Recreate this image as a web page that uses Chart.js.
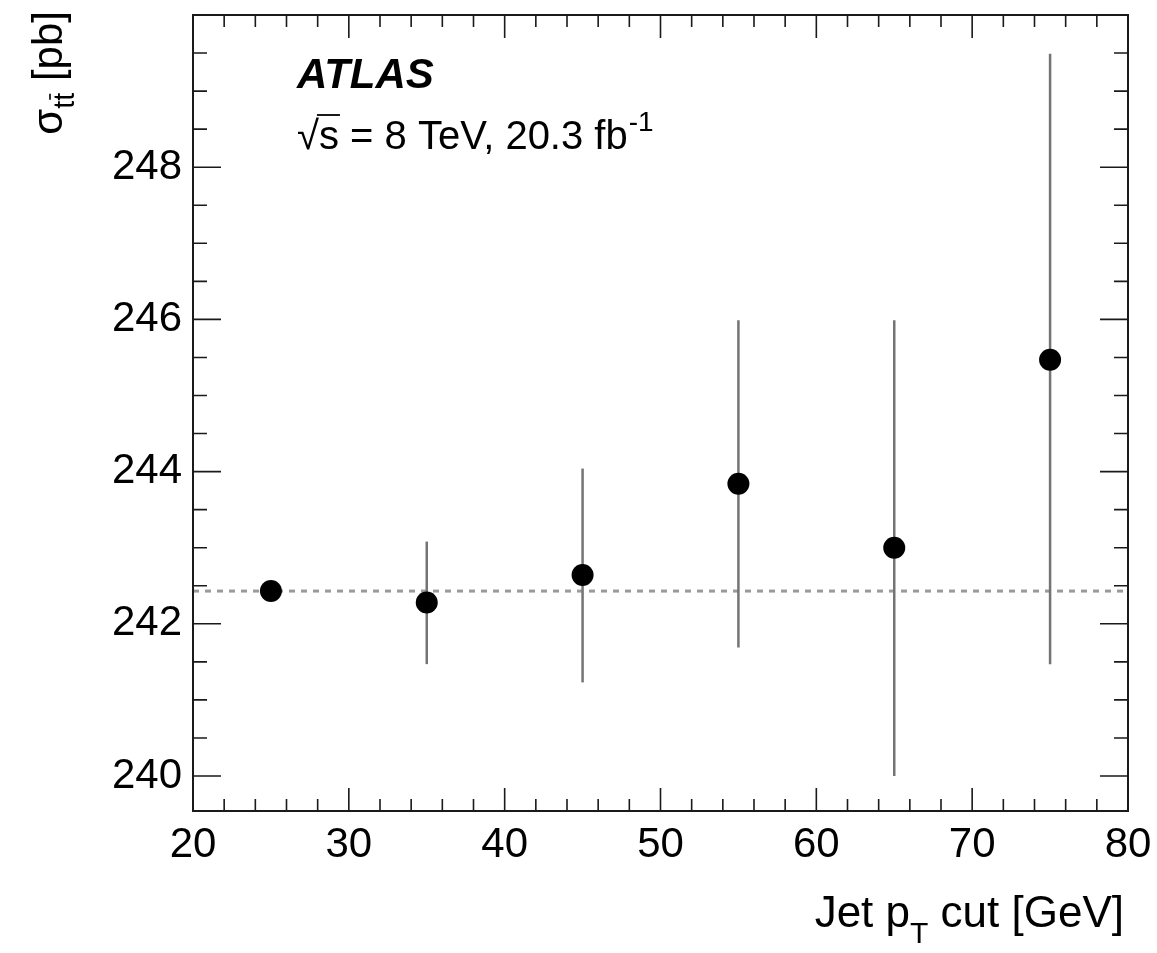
<!DOCTYPE html>
<html><head><meta charset="utf-8">
<script src="https://cdn.jsdelivr.net/npm/chart.js@4/dist/chart.umd.min.js"></script>
<style>html,body{margin:0;padding:0;background:#fff}#wrap{width:1157px;height:953px}</style>
</head><body><div id="wrap"><canvas id="c" width="1157" height="953"></canvas></div>
<script>
const jetPtCut = [25, 35, 45, 55, 65, 75];
const sigma    = [242.43, 242.28, 242.64, 243.84, 243.00, 245.47];
const errLow   = [242.43, 241.47, 241.23, 241.69, 240.00, 241.47];
const errHigh  = [242.43, 243.08, 244.04, 245.99, 245.99, 249.49];
const referenceSigma = 242.43;
const xTicks = [20, 30, 40, 50, 60, 70, 80];
const yTicks = [240, 242, 244, 246, 248];
const xRange = [20, 80];
const yRange = [239.54, 250];

const FONT = "'Liberation Sans', Arial, Helvetica, sans-serif";

const atlasPlugin = {
  id: 'atlas',
  beforeDatasetsDraw(chart) {
    const ctx = chart.ctx, x = chart.scales.x, y = chart.scales.y, a = chart.chartArea;
    ctx.save();
    ctx.strokeStyle = '#9a9a9a';
    ctx.lineWidth = 3;
    ctx.setLineDash([6, 6]);
    const yr = y.getPixelForValue(referenceSigma);
    ctx.beginPath(); ctx.moveTo(a.left, yr); ctx.lineTo(a.right, yr); ctx.stroke();
    ctx.setLineDash([]);
    ctx.strokeStyle = '#747474';
    ctx.lineWidth = 2.5;
    for (let i = 0; i < jetPtCut.length; i++) {
      const px = x.getPixelForValue(jetPtCut[i]);
      ctx.beginPath();
      ctx.moveTo(px, y.getPixelForValue(errLow[i]));
      ctx.lineTo(px, y.getPixelForValue(errHigh[i]));
      ctx.stroke();
    }
    ctx.restore();
  },
  afterDraw(chart) {
    const ctx = chart.ctx, x = chart.scales.x, y = chart.scales.y, a = chart.chartArea;
    ctx.save();
    ctx.strokeStyle = '#1a1a1a';
    ctx.lineWidth = 2;
    ctx.strokeRect(a.left, a.top, a.right - a.left, a.bottom - a.top);
    ctx.lineWidth = 1.6;
    ctx.beginPath();
    for (let v = xRange[0]; v <= xRange[1] + 1e-9; v += 2) {
      const px = x.getPixelForValue(v);
      const major = Math.abs(v % 10) < 1e-9;
      const len = major ? 23 : 12;
      ctx.moveTo(px, a.bottom); ctx.lineTo(px, a.bottom - len);
      ctx.moveTo(px, a.top); ctx.lineTo(px, a.top + len);
    }
    for (let v = 240; v <= yRange[1] + 1e-9; v += 0.5) {
      if (v < yRange[0]) continue;
      const py = y.getPixelForValue(v);
      const major = Math.abs(v % 2) < 1e-9;
      const len = major ? 28 : 14;
      ctx.moveTo(a.left, py); ctx.lineTo(a.left + len, py);
      ctx.moveTo(a.right, py); ctx.lineTo(a.right - len, py);
    }
    ctx.stroke();

    ctx.fillStyle = '#000';
    ctx.textBaseline = 'alphabetic';
    ctx.font = `italic bold 42px ${FONT}`;
    ctx.textAlign = 'left';
    ctx.fillText('ATLAS', 297, 88);
    ctx.font = `40px ${FONT}`;
    let tx = 297, ty = 149;
    ctx.fillText('√', tx, ty);
    tx += ctx.measureText('√').width;
    const sW = ctx.measureText('s').width;
    ctx.fillText('s', tx, ty);
    ctx.lineWidth = 2;
    ctx.beginPath(); ctx.moveTo(tx - 2, ty - 34); ctx.lineTo(tx + sW + 1, ty - 34); ctx.stroke();
    tx += sW;
    const rest = ' = 8 TeV, 20.3 fb';
    ctx.fillText(rest, tx, ty);
    tx += ctx.measureText(rest).width;
    ctx.font = `28px ${FONT}`;
    ctx.fillText('-1', tx + 1, ty - 18);

    const big = `44px ${FONT}`, small = `30px ${FONT}`;
    ctx.font = big; const w1 = ctx.measureText('Jet p').width; const w3 = ctx.measureText(' cut [GeV]').width;
    ctx.font = small; const w2 = ctx.measureText('T').width;
    let xx = a.right - 4 - (w1 + w2 + w3), xb = 927;
    ctx.font = big; ctx.fillText('Jet p', xx, xb); xx += w1;
    ctx.font = small; ctx.fillText('T', xx, xb + 16); xx += w2;
    ctx.font = big; ctx.fillText(' cut [GeV]', xx, xb);

    const ybig = `42px ${FONT}`, ysmall = `29px ${FONT}`;
    ctx.save();
    ctx.translate(62, 11);
    ctx.rotate(-Math.PI / 2);
    ctx.font = ybig; const s1 = ctx.measureText('σ').width; const s3 = ctx.measureText(' [pb]').width;
    ctx.font = ysmall; const tW = ctx.measureText('t').width; const s2 = 2 * tW;
    let yy = -(s1 + s2 + s3);
    ctx.font = ybig; ctx.fillText('σ', yy, 0); yy += s1;
    ctx.font = ysmall; ctx.fillText('tt', yy, 12);
    ctx.lineWidth = 1.8;
    ctx.beginPath(); ctx.moveTo(yy + tW + 1, 12 - 24); ctx.lineTo(yy + 2 * tW - 1, 12 - 24); ctx.stroke();
    yy += s2;
    ctx.font = ybig; ctx.fillText(' [pb]', yy, 0);
    ctx.restore();
    ctx.restore();
  }
};

new Chart(document.getElementById('c'), {
  type: 'scatter',
  data: {
    datasets: [{
      data: jetPtCut.map((v, i) => ({ x: v, y: sigma[i] })),
      pointRadius: 11,
      pointHoverRadius: 11,
      backgroundColor: '#000',
      borderWidth: 0
    }]
  },
  options: {
    responsive: false,
    devicePixelRatio: 1,
    animation: false,
    events: [],
    layout: { padding: { left: 0, right: 29, top: 15, bottom: 0 } },
    plugins: { legend: { display: false }, tooltip: { enabled: false } },
    scales: {
      x: {
        type: 'linear', min: xRange[0], max: xRange[1],
        grid: { display: false, drawTicks: false },
        border: { display: false },
        afterBuildTicks(s) { s.ticks = xTicks.map(v => ({ value: v })); },
        afterFit(s) { s.height = 142; s.paddingLeft = 0; s.paddingRight = 0; },
        ticks: { color: '#000', font: { family: FONT, size: 42 }, padding: 9, maxRotation: 0, autoSkip: false }
      },
      y: {
        type: 'linear', min: yRange[0], max: yRange[1],
        grid: { display: false, drawTicks: false },
        border: { display: false },
        afterBuildTicks(s) { s.ticks = yTicks.map(v => ({ value: v })); },
        afterFit(s) { s.width = 193; s.paddingTop = 0; s.paddingBottom = 0; },
        ticks: { color: '#000', font: { family: FONT, size: 42 }, padding: 11, autoSkip: false }
      }
    }
  },
  plugins: [atlasPlugin]
});
</script>
</body></html>
